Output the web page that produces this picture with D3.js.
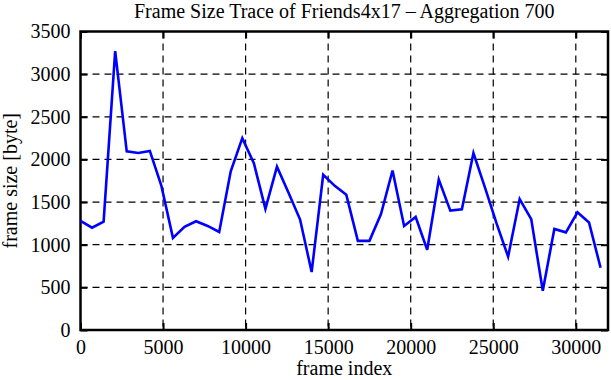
<!DOCTYPE html>
<html>
<head>
<meta charset="utf-8">
<script src="https://cdn.jsdelivr.net/npm/d3@7"></script>
<style>
  body { margin: 0; background: #fff; }
  svg text { font-family: "Liberation Serif", "DejaVu Serif", serif; fill: #000; }
</style>
</head>
<body>
<div id="chart"></div>
<script>
// frame index (aggregation 700) and aggregated frame size in byte
const frameIndex = [0, 700, 1400, 2100, 2800, 3500, 4200, 4900, 5600, 6300,
  7000, 7700, 8400, 9100, 9800, 10500, 11200, 11900, 12600, 13300,
  14000, 14700, 15400, 16100, 16800, 17500, 18200, 18900, 19600, 20300,
  21000, 21700, 22400, 23100, 23800, 24500, 25200, 25900, 26600, 27300,
  28000, 28700, 29400, 30100, 30800, 31500];
const frameSize = [1280, 1200, 1270, 3270, 2095, 2075, 2100, 1690, 1080, 1210,
  1275, 1220, 1150, 1860, 2250, 1955, 1420, 1915, 1610, 1295,
  680, 1820, 1690, 1585, 1045, 1045, 1360, 1870, 1220, 1325,
  940, 1765, 1400, 1415, 2075, 1670, 1250, 860, 1535, 1300,
  460, 1185, 1145, 1380, 1260, 730];
const xTicks = [0, 5000, 10000, 15000, 20000, 25000, 30000];
const yTicks = [0, 500, 1000, 1500, 2000, 2500, 3000, 3500];

const W = 611, H = 380;
const mLeft = 80.5, mRight = 608, mTop = 31.5, mBottom = 330;
const serif = '"Liberation Serif", "DejaVu Serif", serif';
const fs = '20px';

const svg = d3.select('#chart').append('svg')
  .attr('width', W).attr('height', H);

const x = d3.scaleLinear().domain([0, 31950]).range([mLeft, mRight]);
const y = d3.scaleLinear().domain([0, 3500]).range([mBottom, mTop]);

// grid lines (dashed)
svg.append('g').selectAll('line')
  .data(xTicks.slice(1))
  .enter().append('line')
  .attr('x1', d => x(d)).attr('x2', d => x(d))
  .attr('y1', mTop).attr('y2', mBottom)
  .attr('stroke', '#000').attr('stroke-width', 1.2)
  .attr('stroke-dasharray', '7,5');
svg.append('g').selectAll('line')
  .data(yTicks.slice(1, -1))
  .enter().append('line')
  .attr('x1', mLeft).attr('x2', mRight)
  .attr('y1', d => y(d)).attr('y2', d => y(d))
  .attr('stroke', '#000').attr('stroke-width', 1.2)
  .attr('stroke-dasharray', '7,5');

// inside ticks on all four sides
const tk = 7;
const fmt = d3.format('d');
const axB = svg.append('g').attr('transform', `translate(0,${mBottom})`)
  .call(d3.axisBottom(x).tickValues(xTicks).tickFormat(fmt).tickSizeInner(-tk).tickSizeOuter(0).tickPadding(10));
const axT = svg.append('g').attr('transform', `translate(0,${mTop})`)
  .call(d3.axisTop(x).tickValues(xTicks).tickSizeInner(-tk).tickSizeOuter(0).tickFormat(''));
const axL = svg.append('g').attr('transform', `translate(${mLeft},0)`)
  .call(d3.axisLeft(y).tickValues(yTicks).tickFormat(fmt).tickSizeInner(-tk).tickSizeOuter(0).tickPadding(10));
const axR = svg.append('g').attr('transform', `translate(${mRight},0)`)
  .call(d3.axisRight(y).tickValues(yTicks).tickSizeInner(-tk).tickSizeOuter(0).tickFormat(''));

[axB, axT, axL, axR].forEach(a => {
  a.attr('font-family', serif).attr('font-size', fs);
  a.select('.domain').remove();
  a.selectAll('.tick line').attr('stroke', '#000').attr('stroke-width', 2);
  a.selectAll('.tick text').attr('fill', '#000').style('font-family', serif);
});

// frame border
svg.append('rect')
  .attr('x', mLeft).attr('y', mTop)
  .attr('width', mRight - mLeft).attr('height', mBottom - mTop)
  .attr('fill', 'none').attr('stroke', '#000').attr('stroke-width', 2.5);

// the trace
const line = d3.line()
  .x((d, i) => x(frameIndex[i]))
  .y(d => y(d));
svg.append('path')
  .datum(frameSize)
  .attr('d', line)
  .attr('fill', 'none')
  .attr('stroke', '#0000ff')
  .attr('stroke-width', 2.6)
  .attr('stroke-linejoin', 'miter');

// texts
svg.append('text')
  .attr('x', (mLeft + mRight) / 2).attr('y', 18)
  .attr('text-anchor', 'middle').attr('font-family', serif).style('font-size', fs)
  .text('Frame Size Trace of Friends4x17 \u2013 Aggregation 700');
svg.append('text')
  .attr('x', (mLeft + mRight) / 2).attr('y', 375)
  .attr('text-anchor', 'middle').attr('font-family', serif).style('font-size', fs)
  .text('frame index');
svg.append('text')
  .attr('transform', `translate(17,${(mTop + mBottom) / 2}) rotate(-90)`)
  .attr('text-anchor', 'middle').attr('font-family', serif).style('font-size', fs)
  .text('frame size [byte]');
</script>
</body>
</html>
